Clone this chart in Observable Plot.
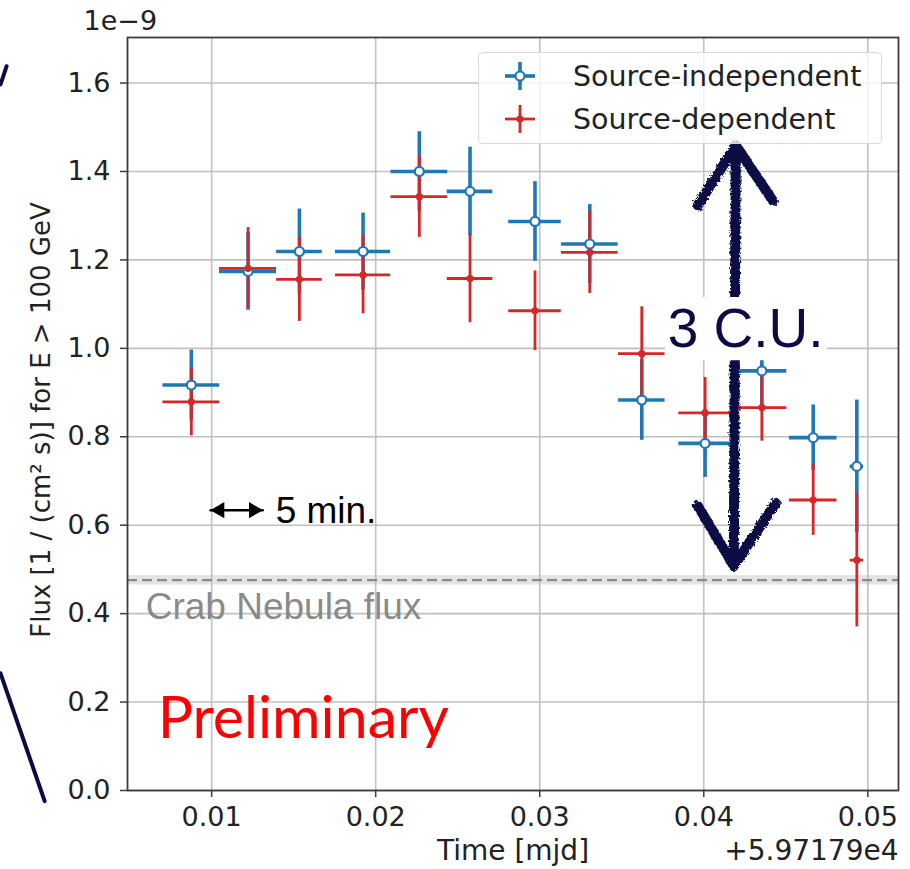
<!DOCTYPE html>
<html>
<head>
<meta charset="utf-8">
<script src="https://cdn.jsdelivr.net/npm/d3@7"></script>
<script src="https://cdn.jsdelivr.net/npm/@observablehq/plot@0.6"></script>
<style>
  html, body { margin: 0; padding: 0; background: #fff; }
  #wrap { position: relative; width: 910px; height: 869px; }
  #legend {
    position: absolute; left: 478px; top: 52px; width: 404px; height: 92px;
    box-sizing: border-box; border: 1.5px solid #d8d8d8; border-radius: 5px;
    background: rgba(255,255,255,0.8);
    font-family: "DejaVu Sans", sans-serif; font-size: 28.5px; color: #222;
  }
  .item { position: absolute; left: 0; height: 40px; display: flex; align-items: center; white-space: nowrap; }
  .item svg { margin-left: 26px; margin-right: 38px; }
</style>
</head>
<body>
<div id="wrap"></div>
<script>
// ---- data (time offsets from +5.97179e4 mjd) ----
const timeOffset = [0.00876, 0.01222, 0.01535, 0.01923, 0.02266, 0.02575, 0.02971, 0.03305, 0.03622, 0.04008, 0.04354, 0.04667, 0.04933];
const halfWidth  = [0.00173, 0.00174, 0.00139, 0.00168, 0.00173, 0.00139, 0.00160, 0.00173, 0.00142, 0.00160, 0.00152, 0.00145, 0.00041];
const indepFlux  = [0.917, 1.174, 1.219, 1.219, 1.400, 1.355, 1.287, 1.236, 0.883, 0.785, 0.949, 0.798, 0.733];
const indepErr   = [0.079, 0.088, 0.096, 0.087, 0.090, 0.100, 0.090, 0.089, 0.091, 0.077, 0.085, 0.074, 0.150];
const depFlux    = [0.879, 1.181, 1.156, 1.166, 1.343, 1.158, 1.085, 1.217, 0.988, 0.854, 0.866, 0.657, 0.521];
const depErr     = [0.077, 0.092, 0.095, 0.088, 0.092, 0.100, 0.090, 0.093, 0.106, 0.080, 0.076, 0.080, 0.151];
const seriesNames = ["Source-independent", "Source-dependent"];
const xTicks = [0.01, 0.02, 0.03, 0.04, 0.05];
const yTicks = [0.0, 0.2, 0.4, 0.6, 0.8, 1.0, 1.2, 1.4, 1.6];
const xDomain = [0.00487, 0.05187];
const yDomain = [0, 1.703];
const crabFlux = 0.476;
const crabBand = [0.465, 0.486];

// annotations (data coordinates)
const cuArrow = [
  {x: 0.04195, y: 1.459, s: "shaft"}, {x: 0.04183, y: 0.508, s: "shaft"},
  {x: 0.03963, y: 1.323, s: "tl"}, {x: 0.04195, y: 1.459, s: "tl"},
  {x: 0.04421, y: 1.334, s: "tr"}, {x: 0.04195, y: 1.459, s: "tr"},
  {x: 0.03963, y: 0.644, s: "bl"}, {x: 0.04183, y: 0.508, s: "bl"},
  {x: 0.04439, y: 0.650, s: "br"}, {x: 0.04183, y: 0.508, s: "br"}
];
const cuBox = [{x1: 0.03768, x2: 0.04756, y1: 0.972, y2: 1.115}];
const cuLabel = [{x: 0.0378, y: 1.0025, text: "3 C.U."}];
const minArrow = [{x: 0.00994, y: 0.634}, {x: 0.01311, y: 0.634}];
const minLabel = [{x: 0.0139, y: 0.605, text: "5 min."}];
const crabLabel = [{x: 0.00598, y: 0.387, text: "Crab Nebula flux"}];
const prelimLabel = [{x: 0.00671, y: 0.1184, text: "Preliminary"}];
const decorLines = [
  {x: -0.00287, y: 1.597, s: "a"}, {x: -0.00250, y: 1.638, s: "a"},
  {x: -0.00287, y: 0.265, s: "b"}, {x: -0.00018, y: -0.024, s: "b"}
];

const blue = "#1f77b4", red = "#d62728", navy = "#0b0b45";
const indep = timeOffset.map((x, i) => ({x, hw: halfWidth[i], f: indepFlux[i], e: indepErr[i]}));
const dep = timeOffset.map((x, i) => ({x, hw: halfWidth[i], f: depFlux[i], e: depErr[i]}));

const tickFont = {fontFamily: "DejaVu Sans, sans-serif", fontSize: 27, fill: "#222"};

const chart = Plot.plot({
  width: 910, height: 869,
  marginLeft: 127, marginRight: 12, marginTop: 37, marginBottom: 79,
  style: {fontFamily: "DejaVu Sans, sans-serif", background: "#fff", overflow: "visible"},
  x: {domain: xDomain},
  y: {domain: yDomain},
  marks: [
    Plot.rect([crabBand], {x1: () => xDomain[0], x2: () => xDomain[1], y1: d => d[0], y2: d => d[1], fill: "#e4e4e4"}),
    Plot.gridX(xTicks, {stroke: "#c0c0c0", strokeOpacity: 1, strokeWidth: 1.6}),
    Plot.gridY(yTicks, {stroke: "#c0c0c0", strokeOpacity: 1, strokeWidth: 1.6}),
    Plot.ruleY([crabFlux], {stroke: "#8a8a8a", strokeWidth: 2.2, strokeDasharray: "10,5"}),
    // error bars
    Plot.ruleY(indep, {y: "f", x1: d => d.x - d.hw, x2: d => d.x + d.hw, stroke: blue, strokeWidth: 3.6}),
    Plot.ruleX(indep, {x: "x", y1: d => d.f - d.e, y2: d => d.f + d.e, stroke: blue, strokeWidth: 3.6}),
    Plot.ruleY(dep, {y: "f", x1: d => d.x - d.hw, x2: d => d.x + d.hw, stroke: red, strokeWidth: 2.8}),
    Plot.ruleX(dep, {x: "x", y1: d => d.f - d.e, y2: d => d.f + d.e, stroke: red, strokeWidth: 2.8}),
    Plot.dot(indep, {x: "x", y: "f", r: 4.5, fill: "white", stroke: blue, strokeWidth: 2.2}),
    Plot.dot(dep, {x: "x", y: "f", r: 3.6, fill: red}),
    Plot.frame({stroke: "#3c3c3c", strokeWidth: 1.8}),
    Plot.axisX(xTicks, {tickSize: 7, tickPadding: 9, tickFormat: d => d.toFixed(2), stroke: "#3c3c3c", strokeWidth: 1.5, ...tickFont, label: null}),
    Plot.axisY(yTicks, {tickSize: 7, tickPadding: 10, tickFormat: d => d.toFixed(1), stroke: "#3c3c3c", strokeWidth: 1.5, ...tickFont, label: null}),
    // axis labels
    Plot.text(["Flux [1 / (cm² s)] for E > 100 GeV"], {frameAnchor: "left", textAnchor: "middle", rotate: -90, dx: -86, dy: 6, fontFamily: "DejaVu Sans, sans-serif", fontSize: 26, fill: "#222"}),
    Plot.text(["Time [mjd]"], {frameAnchor: "bottom", textAnchor: "middle", dy: 61, lineAnchor: "middle", ...tickFont, fontSize: 28}),
    Plot.text(["+5.97179e4"], {frameAnchor: "bottom-right", textAnchor: "end", dy: 61, lineAnchor: "middle", ...tickFont, fontSize: 28}),
    Plot.text(["1e\u22129"], {frameAnchor: "top-left", textAnchor: "start", dx: -44, dy: -16, lineAnchor: "middle", ...tickFont}),
    // annotations
    Plot.text(crabLabel, {x: "x", y: "y", text: "text", textAnchor: "start", lineAnchor: "bottom", fill: "#8a8a8a", fontFamily: "Liberation Sans, Arial, sans-serif", fontSize: 37}),
    Plot.text(prelimLabel, {x: "x", y: "y", text: "text", textAnchor: "start", lineAnchor: "bottom", fill: "#ff0000", fontFamily: "Lato, Carlito, sans-serif", fontSize: 59}),
    Plot.line(minArrow, {x: "x", y: "y", stroke: "#000", strokeWidth: 2.5}),
    Plot.dot([minArrow[1]], {x: "x", y: "y", symbol: "triangle", rotate: 90, r: 6, fill: "#000", dx: -9}),
    Plot.dot([minArrow[0]], {x: "x", y: "y", symbol: "triangle", rotate: -90, r: 6, fill: "#000", dx: 9}),
    Plot.text(minLabel, {x: "x", y: "y", text: "text", textAnchor: "start", lineAnchor: "bottom", fill: "#000", fontFamily: "Liberation Sans, Arial, sans-serif", fontSize: 37}),
    Plot.line(cuArrow, {x: "x", y: "y", z: "s", stroke: navy, strokeWidth: 10, strokeLinecap: "round", strokeLinejoin: "round"}),
    Plot.rect(cuBox, {x1: "x1", x2: "x2", y1: "y1", y2: "y2", fill: "white"}),
    Plot.text(cuLabel, {x: "x", y: "y", text: "text", textAnchor: "start", lineAnchor: "bottom", fill: navy, fontFamily: "Liberation Sans, Arial, sans-serif", fontSize: 55}),
    Plot.line(decorLines, {x: "x", y: "y", z: "s", stroke: navy, strokeWidth: 4})
  ]
});

// rough, hand-drawn look for the navy arrow
const svg = d3.select(chart);
const defs = svg.insert("defs", ":first-child");
const f = defs.append("filter").attr("id", "rough").attr("x", "-20%").attr("y", "-5%").attr("width", "140%").attr("height", "110%");
f.append("feTurbulence").attr("type", "fractalNoise").attr("baseFrequency", 0.45).attr("numOctaves", 2).attr("result", "n");
f.append("feDisplacementMap").attr("in", "SourceGraphic").attr("in2", "n").attr("scale", 5);
svg.selectAll('g[aria-label="line"][stroke-width="10"]').attr("filter", "url(#rough)");

const wrap = document.getElementById("wrap");
wrap.appendChild(chart);

// legend
const legend = document.createElement("div");
legend.id = "legend";
function marker(color, hollow) {
  const w = 30, h = 28;
  const s = d3.create("svg").attr("width", w).attr("height", h);
  s.append("line").attr("x1", 0).attr("x2", w).attr("y1", h/2).attr("y2", h/2).attr("stroke", color).attr("stroke-width", hollow ? 3.6 : 2.8);
  s.append("line").attr("x1", w/2).attr("x2", w/2).attr("y1", 0).attr("y2", h).attr("stroke", color).attr("stroke-width", hollow ? 3.6 : 2.8);
  if (hollow) s.append("circle").attr("cx", w/2).attr("cy", h/2).attr("r", 4.5).attr("fill", "white").attr("stroke", color).attr("stroke-width", 2.2);
  else s.append("circle").attr("cx", w/2).attr("cy", h/2).attr("r", 3.6).attr("fill", color);
  return s.node();
}
[[seriesNames[0], blue, true, 3], [seriesNames[1], red, false, 46]].forEach(([name, color, hollow, top]) => {
  const it = document.createElement("div");
  it.className = "item";
  it.style.top = top + "px";
  it.appendChild(marker(color, hollow));
  const sp = document.createElement("span");
  sp.textContent = name;
  it.appendChild(sp);
  legend.appendChild(it);
});
wrap.appendChild(legend);
</script>
</body>
</html>
